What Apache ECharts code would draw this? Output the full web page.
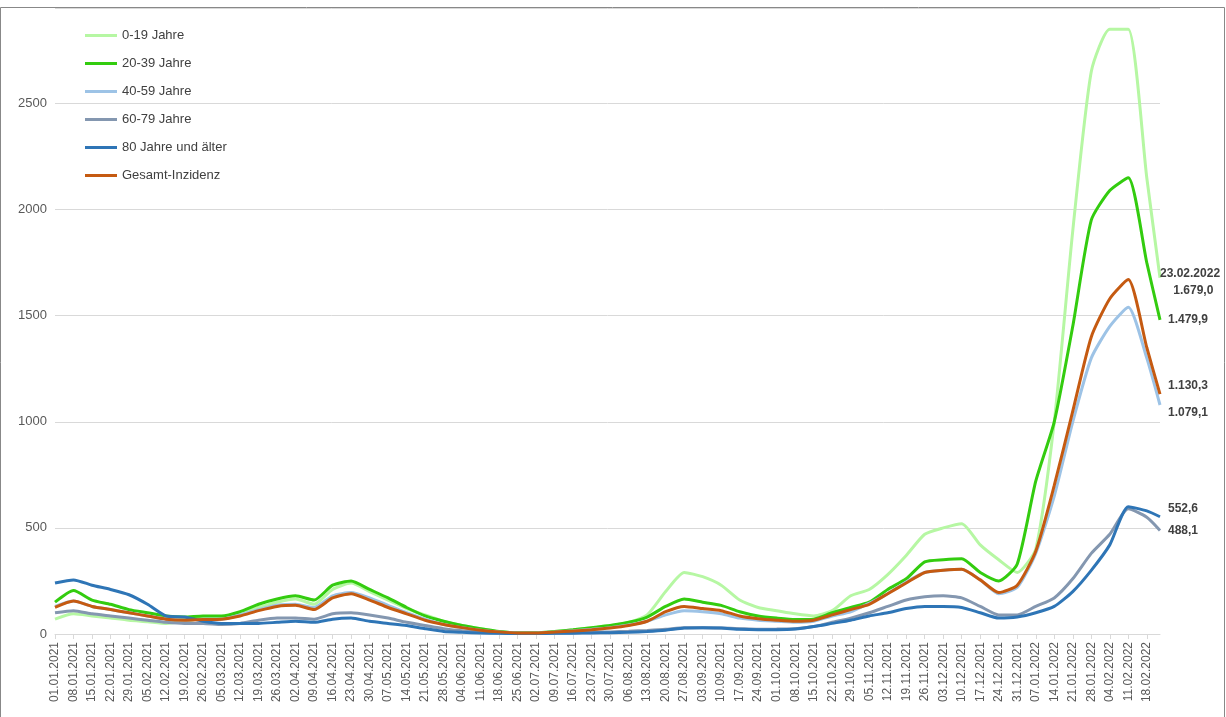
<!DOCTYPE html>
<html><head><meta charset="utf-8">
<script src="https://cdn.jsdelivr.net/npm/echarts@6/dist/echarts.min.js"></script>
<style>html,body{margin:0;padding:0;background:#fff}#c{width:1226px;height:717px}</style>
</head><body><div id="c"></div>
<script>
// sample points: every Friday from 01.01.2021 to 18.02.2022, plus 23.02.2022
const age0_19 = [70,95,85,75,65,58,50,60,75,80,100,125,150,165,140,210,240,200,160,120,90,60,40,25,12,6,6,12,20,30,40,55,90,200,290,270,230,160,125,110,95,85,110,180,210,280,370,470,500,520,420,350,290,400,1000,1900,2650,2850,2850,2150,1679.0];
const age20_39 = [150,205,160,140,115,100,85,80,85,85,105,140,165,180,160,230,250,210,170,125,85,60,40,25,12,6,6,12,20,30,40,55,80,130,165,150,135,105,85,75,68,70,100,125,150,210,260,340,350,355,290,250,330,720,1000,1450,1950,2090,2150,1750,1479.9];
const age40_59 = [130,155,130,115,100,85,70,65,70,70,90,115,135,140,125,180,195,170,135,100,70,45,30,18,10,5,5,9,15,22,30,42,60,90,110,105,95,75,65,60,55,60,85,105,145,190,245,290,300,305,255,190,220,380,650,1000,1300,1450,1540,1300,1079.1];
const age60_79 = [100,110,95,85,75,65,55,50,50,45,50,65,75,75,70,95,100,90,75,55,40,25,15,10,5,3,2,4,6,8,10,13,17,22,30,30,28,25,22,23,25,35,55,75,100,130,160,175,180,170,130,90,90,130,170,260,380,470,590,550,488.1];
const age80 = [240,255,230,210,185,140,85,80,60,50,50,50,55,60,55,70,75,60,50,40,25,12,8,5,3,2,2,3,4,5,6,8,12,18,28,30,28,22,20,20,23,35,50,65,85,100,120,130,130,125,100,75,80,100,130,200,300,420,600,580,552.6];
const gesamt = [125,155,130,115,100,85,70,65,68,70,85,110,130,135,115,170,190,160,125,95,65,45,30,18,10,5,5,9,14,20,28,40,60,105,130,120,110,85,72,65,60,65,90,115,140,190,240,290,300,305,255,195,230,390,700,1050,1400,1580,1670,1350,1130.3];
const seriesNames = ['0-19 Jahre','20-39 Jahre','40-59 Jahre','60-79 Jahre','80 Jahre und älter','Gesamt-Inzidenz'];

function fmt(d){return String(d.getUTCDate()).padStart(2,'0')+'.'+String(d.getUTCMonth()+1).padStart(2,'0')+'.'+d.getUTCFullYear();}
const start = Date.UTC(2021,0,1), end = Date.UTC(2022,1,23), day=86400000;
const days=[]; for(let t=start;t<=end;t+=day) days.push(fmt(new Date(t)));
const sampleDates=[]; for(let i=0;i<60;i++) sampleDates.push(days[i*7]); sampleDates.push(days[days.length-1]);

function de(v){return v.toLocaleString('de-DE',{minimumFractionDigits:1,maximumFractionDigits:1});}
const colors=['#b6f7a3','#33cc0f','#9dc3e6','#8497b0','#2e75b6','#c55a11'];
const values=[age0_19,age20_39,age40_59,age60_79,age80,gesamt];
const offs=[[-8,4],[0,0],[0,8],[0,0],[0,-8],[0,-8]];
const series=values.map((arr,i)=>({
  name:seriesNames[i],type:'line',showSymbol:false,smooth:0.2,z:i===0?1:2,
  lineStyle:{width:3,color:colors[i]},itemStyle:{color:colors[i]},
  data:arr.map((v,j)=>[sampleDates[j],v]),
  endLabel:{show:true,offset:offs[i],distance:8,color:'#404040',fontWeight:'bold',fontSize:12,fontFamily:'Liberation Sans',
    formatter:p=> i===0 ? '23.02.2022\n    '+de(p.value[1]) : de(p.value[1]), lineHeight:17}
}));
const chart=echarts.init(document.getElementById('c'));
chart.setOption({
  animation:false,
  grid:{left:55,right:66,top:8,bottom:83},
  legend:{orient:'vertical',left:80,top:24,itemGap:15,itemWidth:32,itemHeight:3,icon:'rect',
    textStyle:{color:'#404040',fontSize:13,fontFamily:'Liberation Sans'},data:seriesNames},
  xAxis:{type:'category',data:days,boundaryGap:false,
    axisLine:{lineStyle:{color:'#d9d9d9'}},axisTick:{show:true,interval:6,lineStyle:{color:'#d9d9d9'}},
    axisLabel:{interval:6,rotate:90,color:'#595959',fontSize:12,fontFamily:'Liberation Sans'}},
  yAxis:{type:'value',min:0,max:2950,interval:500,
    splitLine:{lineStyle:{color:'#d9d9d9'}},
    axisLabel:{color:'#595959',fontSize:13,fontFamily:'Liberation Sans',formatter:v=>v%500===0?v:''}},
  graphic:[{type:'rect',shape:{x:0.5,y:7.5,width:1224,height:720},style:{fill:'none',stroke:'#888',lineWidth:1},silent:true}],
  series
});
</script></body></html>
